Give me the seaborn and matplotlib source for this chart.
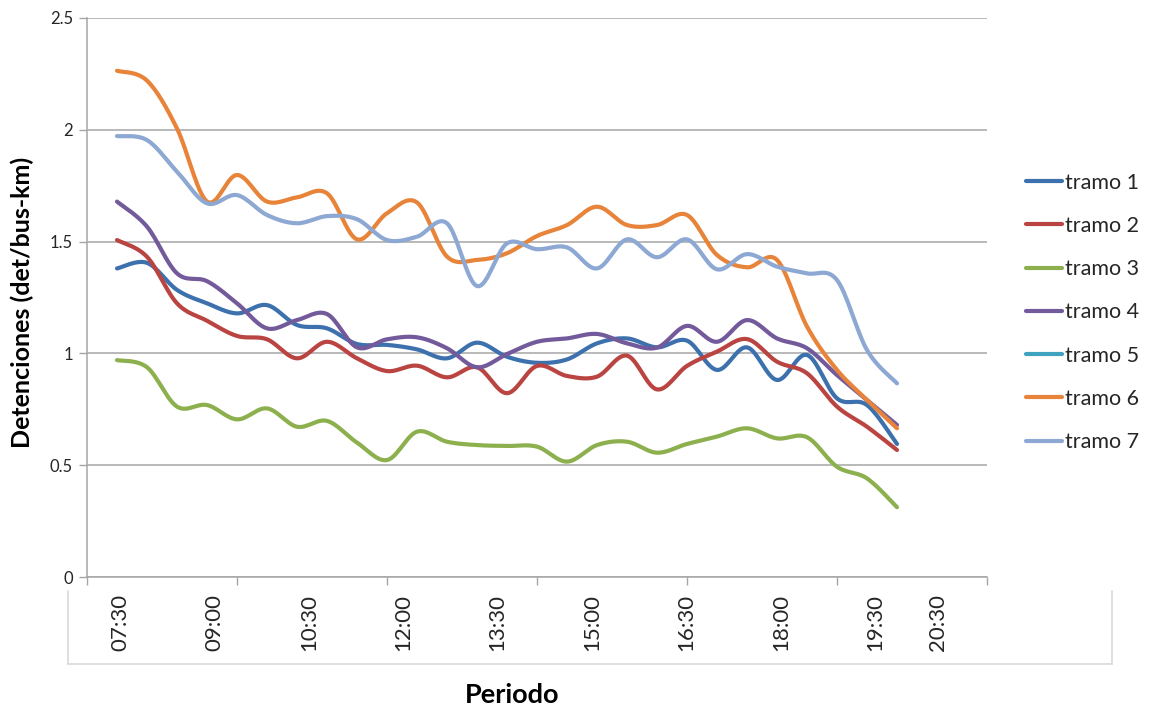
import numpy as np
import pandas as pd
import matplotlib
matplotlib.use("Agg")
import matplotlib.pyplot as plt
from matplotlib.lines import Line2D
import seaborn as sns

# ---------------- data ----------------
series_names = ["tramo 1", "tramo 2", "tramo 3", "tramo 4", "tramo 5", "tramo 6", "tramo 7"]

tramo1 = [1.38, 1.405, 1.284, 1.224, 1.179, 1.216, 1.127, 1.112, 1.042, 1.038, 1.018, 0.978, 1.048, 0.985,
          0.958, 0.973, 1.045, 1.067, 1.027, 1.057, 0.926, 1.027, 0.881, 0.993, 0.799, 0.769, 0.595]
tramo2 = [1.507, 1.432, 1.224, 1.146, 1.078, 1.063, 0.978, 1.052, 0.978, 0.921, 0.945, 0.893, 0.938, 0.822,
          0.944, 0.899, 0.896, 0.990, 0.839, 0.944, 1.008, 1.064, 0.963, 0.911, 0.762, 0.672, 0.568]
tramo3 = [0.970, 0.938, 0.762, 0.769, 0.705, 0.754, 0.672, 0.698, 0.601, 0.523, 0.650, 0.605, 0.590, 0.586,
          0.583, 0.516, 0.590, 0.605, 0.556, 0.595, 0.628, 0.665, 0.620, 0.625, 0.493, 0.441, 0.312]
tramo4 = [1.679, 1.567, 1.358, 1.323, 1.224, 1.112, 1.149, 1.176, 1.027, 1.063, 1.072, 1.023, 0.938, 0.997,
          1.052, 1.067, 1.087, 1.045, 1.026, 1.123, 1.052, 1.149, 1.067, 1.023, 0.903, 0.792, 0.680]
tramo5 = [None] * 27
tramo6 = [2.264, 2.220, 2.006, 1.679, 1.798, 1.679, 1.698, 1.716, 1.510, 1.627, 1.675, 1.433, 1.418, 1.448,
          1.525, 1.574, 1.656, 1.574, 1.574, 1.619, 1.440, 1.385, 1.418, 1.120, 0.926, 0.792, 0.665]
tramo7 = [1.972, 1.954, 1.813, 1.671, 1.708, 1.619, 1.582, 1.614, 1.600, 1.507, 1.522, 1.582, 1.301, 1.492,
          1.466, 1.474, 1.380, 1.510, 1.430, 1.510, 1.376, 1.444, 1.388, 1.358, 1.328, 1.015, 0.866]

tick_labels = ["07:30", "09:00", "10:30", "12:00", "13:30", "15:00", "16:30", "18:00", "19:30", "20:30"]
y_ticks = [0, 0.5, 1, 1.5, 2, 2.5]
y_tick_labels = ["0", "0.5", "1", "1.5", "2", "2.5"]

colors = ["#3D71AE", "#BA4441", "#8DB04E", "#735A9B", "#3FA3BF", "#E8843A", "#8CA8D3"]

# ---------------- helpers ----------------
def smooth(xs, ys, n=16):
    """Excel-style smoothed line (cubic Bezier, Catmull-Rom control points)."""
    xs = np.asarray(xs, float)
    ys = np.asarray(ys, float)
    px = np.concatenate([[xs[0]], xs, [xs[-1]]])
    py = np.concatenate([[ys[0]], ys, [ys[-1]]])
    out_x, out_y = [], []
    t = np.linspace(0, 1, n, endpoint=False)
    for i in range(1, len(px) - 2):
        p0 = np.array([px[i - 1], py[i - 1]]); p1 = np.array([px[i], py[i]])
        p2 = np.array([px[i + 1], py[i + 1]]); p3 = np.array([px[i + 2], py[i + 2]])
        c1 = p1 + (p2 - p0) / 6.0
        c2 = p2 - (p3 - p1) / 6.0
        b = ((1 - t) ** 3)[:, None] * p1 + (3 * (1 - t) ** 2 * t)[:, None] * c1 + \
            (3 * (1 - t) * t ** 2)[:, None] * c2 + (t ** 3)[:, None] * p2
        out_x.extend(b[:, 0]); out_y.extend(b[:, 1])
    out_x.append(xs[-1]); out_y.append(ys[-1])
    return np.array(out_x), np.array(out_y)

def tmin(s):
    h, m = s.split(":")
    return int(h) * 60 + int(m)

# ---------------- figure ----------------
sns.set_theme(style="white")
plt.rcParams["font.family"] = ["Lato", "DejaVu Sans"]

W, H = 1150, 707
fig = plt.figure(figsize=(W / 100, H / 100), dpi=100)
ax = fig.add_axes([87 / W, 1 - 577 / H, 900 / W, (577 - 18) / H])

all_series = [tramo1, tramo2, tramo3, tramo4, tramo5, tramo6, tramo7]
handles = []
for name, vals, col in zip(series_names, all_series, colors):
    xs = [i + 1 for i, v in enumerate(vals) if v is not None]
    ys = [v for v in vals if v is not None]
    if len(ys) > 1:
        sx, sy = smooth(xs, ys)
        sns.lineplot(x=sx, y=sy, ax=ax, color=col, linewidth=3.0, sort=False,
                     estimator=None, legend=False, solid_capstyle="round")
    handles.append(Line2D([0], [0], color=col, linewidth=3.0, label=name))

ax.set_xlim(0, 30)
ax.set_ylim(0, 2.5)

# y axis
ax.set_yticks(y_ticks)
ax.set_yticklabels(y_tick_labels, fontsize=12, color="#262626")
ax.yaxis.grid(True, color="#A6A6A6", linewidth=1.1)
ax.xaxis.grid(False)
ax.set_axisbelow(True)

# x axis: tick marks every 5 categories, labels placed at their time positions
ax.set_xticks(np.arange(0, 31, 5))
ax.set_xticklabels([])
label_pos = [(120 - 87) / 30 + (tmin(s) - tmin(tick_labels[0])) * (94.4 / 90) / 30 for s in tick_labels]
ax.set_xticks(label_pos, minor=True)
ax.set_xticklabels(tick_labels, minor=True, rotation=90, fontsize=16, color="#262626")
ax.tick_params(axis="x", which="major", length=6, width=1, color="#A6A6A6", direction="out", bottom=True)
ax.tick_params(axis="x", which="minor", length=0, pad=12, bottom=True)
ax.tick_params(axis="y", which="major", length=6, width=1, color="#A6A6A6", direction="out", left=True, pad=4)

for s in ["top", "right"]:
    ax.spines[s].set_visible(False)
for s in ["left", "bottom"]:
    ax.spines[s].set_color("#A6A6A6")
    ax.spines[s].set_linewidth(1.1)

# titles
fig.text(22 / W, 1 - 302 / H, "Detenciones (det/bus-km)", rotation=90, fontsize=18,
         fontweight="bold", ha="center", va="center", color="#000000")
fig.text(512 / W, 1 - 695 / H, "Periodo", fontsize=19.5, fontweight="bold",
         ha="center", va="center", color="#000000")

# light frame around the category label area
frame_col = "#D9D9D9"
fig.add_artist(Line2D([68 / W, 68 / W], [1 - 591 / H, 1 - 664 / H], color=frame_col, lw=1.2))
fig.add_artist(Line2D([68 / W, 1112 / W], [1 - 664 / H, 1 - 664 / H], color=frame_col, lw=1.2))
fig.add_artist(Line2D([1112 / W, 1112 / W], [1 - 591 / H, 1 - 664 / H], color=frame_col, lw=1.2))

# legend
leg = fig.legend(handles=handles, loc="upper left", bbox_to_anchor=(1017 / W, 1 - 164 / H),
                 frameon=False, fontsize=15.5, handlelength=1.7, handletextpad=0.15,
                 labelspacing=1.08, borderaxespad=0)

fig.savefig("out.png", dpi=100)
